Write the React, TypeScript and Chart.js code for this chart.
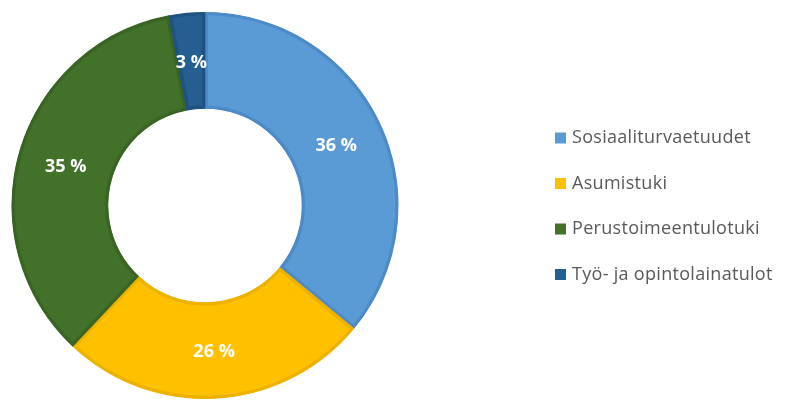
import React, { useEffect, useRef } from "react";
import { Chart, registerables } from "chart.js";

Chart.register(...registerables);

const categories = ["Sosiaaliturvaetuudet", "Asumistuki", "Perustoimeentulotuki", "Työ- ja opintolainatulot"];
const shares = [36, 26, 35, 3];
const fillColors = ["#5B9BD5", "#FFC000", "#42712A", "#255E91"];
const edgeColors = ["#4D8BC8", "#EDB200", "#3A6424", "#1F5283"];

const labelsPlugin = {
  id: "sliceLabels",
  afterDatasetsDraw(chart: any) {
    const ctx = chart.ctx;
    const meta = chart.getDatasetMeta(0);
    const ds = chart.data.datasets[0];
    ctx.save();
    ctx.font = "bold 18px 'Open Sans'";
    ctx.fillStyle = "#FFFFFF";
    ctx.textAlign = "center";
    ctx.textBaseline = "middle";
    meta.data.forEach((arc: any, i: number) => {
      const p = arc.tooltipPosition();
      ctx.fillText(ds.data[i] + " %", p.x, p.y + 2);
    });
    ctx.restore();
  },
};

const legendPlugin = {
  id: "sideLegend",
  afterDraw(chart: any) {
    const ctx = chart.ctx;
    const labels = chart.data.labels as string[];
    const colors = chart.data.datasets[0].backgroundColor as string[];
    ctx.save();
    ctx.font = "18px 'Open Sans'";
    try {
      (ctx as any).letterSpacing = "0.3px";
    } catch (e) {}
    ctx.textBaseline = "middle";
    ctx.textAlign = "left";
    labels.forEach((lab, i) => {
      const cy = 138 + i * 45.5;
      ctx.fillStyle = colors[i];
      ctx.fillRect(555, cy - 5.5, 11, 11);
      ctx.fillStyle = "#595959";
      ctx.fillText(lab, 572, cy);
    });
    ctx.restore();
  },
};

export default function App() {
  const ref = useRef<HTMLCanvasElement | null>(null);
  useEffect(() => {
    if (!ref.current) return;
    const chart = new Chart(ref.current, {
      type: "doughnut",
      data: {
        labels: categories,
        datasets: [
          {
            data: shares,
            backgroundColor: fillColors,
            borderColor: edgeColors,
            borderWidth: 3,
            borderAlign: "inner",
          } as any,
        ],
      },
      options: {
        animation: false,
        responsive: true,
        maintainAspectRatio: false,
        cutout: "50%",
        layout: { padding: { left: 11, top: 12, right: 406, bottom: 1 } },
        plugins: {
          legend: { display: false },
          tooltip: { enabled: false },
        },
      },
      plugins: [labelsPlugin, legendPlugin],
    });
    return () => chart.destroy();
  }, []);
  return (
    <div style={{ position: "absolute", left: 0, top: 0, width: 805, height: 400, background: "#fff" }}>
      <canvas ref={ref} />
    </div>
  );
}
